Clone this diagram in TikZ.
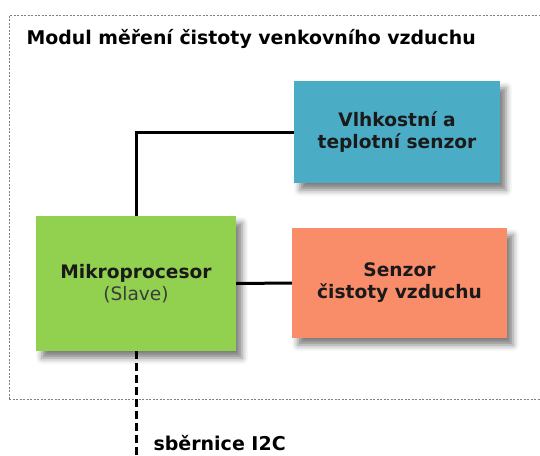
\documentclass[tikz,border=0pt]{standalone}
\usepackage{fontspec}
\setmainfont{DejaVu Sans}
\usetikzlibrary{shadows.blur}

\definecolor{zelena}{HTML}{92D050}
\definecolor{modra}{HTML}{4BACC6}
\definecolor{oranzova}{HTML}{F98C69}
\definecolor{text}{HTML}{1A1A1A}

\tikzset{
  blok/.style={draw=none, align=center, font=\bfseries\fontsize{18.6}{22}\selectfont,
    text=text, inner sep=0pt,
    blur shadow={shadow xshift=6pt, shadow yshift=-7pt, shadow blur radius=6pt, shadow opacity=50}},
  spoj/.style={line width=3pt, black},
  sbernice/.style={line width=3pt, black, dash pattern=on 8pt off 4pt}
}

\begin{document}
\begin{tikzpicture}[x=1pt, y=-1pt]
% Set the page size
\useasboundingbox (0,0) rectangle (540,455);

% Draw the module frame and its title
\draw[gray, line width=0.6pt, dash pattern=on 2pt off 1.5pt] (9,399) -- (9,15) -- (545,15);
\draw[gray, line width=0.6pt, dash pattern=on 2pt off 1.5pt] (9,399) -- (545,399);
\node[anchor=base west, font=\bfseries\fontsize{18.9}{22}\selectfont] (nadpis) at (23,44) {Modul měření čistoty venkovního vzduchu};

% Draw the blocks
\node[blok, fill=modra, minimum width=206pt, minimum height=102pt] (vlhkost) at (397,132) {Vlhkostní a\\teplotní senzor};
\node[blok, fill=zelena, minimum width=200pt, minimum height=135pt] (mikro) at (136,283.5) {Mikroprocesor\\{\mdseries\color{text!85}(Slave)}};
\node[blok, fill=oranzova, minimum width=215pt, minimum height=110pt] (cistota) at (399.5,283) {Senzor\\čistoty vzduchu};

% Connect the blocks
\draw[spoj] (mikro.north) |- (vlhkost.west);
\draw[spoj] (mikro.east) -- (cistota.west);

% Bus out of the module
\coordinate (konec) at (136,455);
\draw[sbernice] (mikro.south) -- (konec);
\node[anchor=base west, font=\bfseries\fontsize{19}{22}\selectfont] (i2c) at (150,450) {sběrnice I2C};
\end{tikzpicture}
\end{document}
